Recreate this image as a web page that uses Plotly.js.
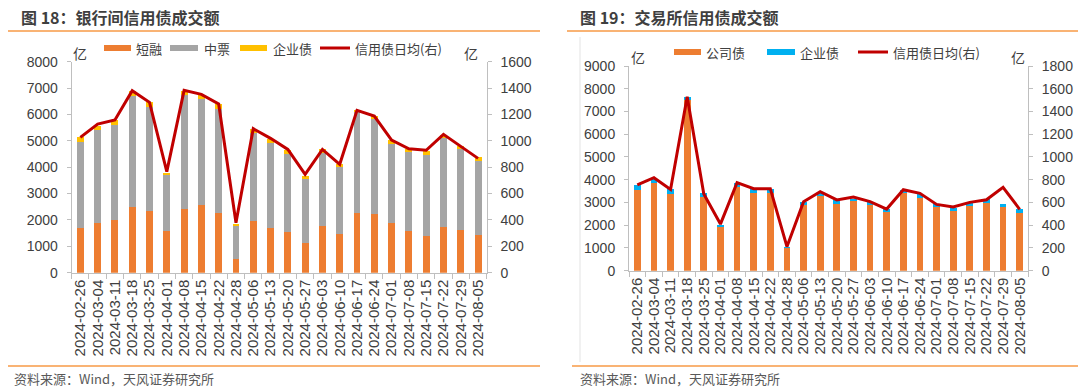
<!DOCTYPE html>
<html><head><meta charset="utf-8">
<script src="https://cdn.plot.ly/plotly-3.0.1.min.js"></script>
<style>html,body{margin:0;padding:0;background:#fff}#chart{width:1080px;height:392px}</style>
</head><body><div id="chart"></div>
<script>
const dates = ['2024-02-26','2024-03-04','2024-03-11','2024-03-18','2024-03-25','2024-04-01','2024-04-08','2024-04-15','2024-04-22','2024-04-28','2024-05-06','2024-05-13','2024-05-20','2024-05-27','2024-06-03','2024-06-10','2024-06-17','2024-06-24','2024-07-01','2024-07-08','2024-07-15','2024-07-22','2024-07-29','2024-08-05'];

// 图18 银行间
const ibCP   = [1680,1870,2000,2500,2340,1580,2400,2570,2260,510,1950,1710,1560,1110,1770,1480,2260,2210,1880,1570,1390,1730,1620,1420];
const ibMTN  = [3260,3540,3615,4195,3955,2110,4335,4030,3955,1275,3350,3210,2930,2450,2755,2540,3815,3630,2995,3010,3085,3360,3070,2820];
const ibEnt  = [190,164,164,202,164,101,164,152,164,76,164,164,164,114,152,113,88,101,152,126,139,126,126,139];
const ibAvg  = [1026,1127,1158,1380,1292,766,1383,1352,1279,379,1092,1019,935,746,935,822,1231,1188,1006,940,928,1049,958,867];

// 图19 交易所
const exCorp = [3550,3870,3370,7500,3225,1935,3665,3400,3430,1000,2875,3300,2950,3080,2890,2580,3430,3195,2785,2625,2860,2960,2785,2550];
const exEnt  = [220,150,205,150,175,60,175,175,145,45,145,100,160,90,130,145,120,175,145,130,100,175,160,160];
const exAvg  = [754,818,715,1530,674,410,774,721,721,211,607,695,622,648,607,542,712,680,583,560,601,624,733,540];

const leftNames = ['短融','中票','企业债','信用债日均(右)'];
const rightNames = ['公司债','企业债','信用债日均(右)'];
const titles = ['图 18：银行间信用债成交额','图 19：交易所信用债成交额'];
const source = '资料来源：Wind，天风证券研究所';
const unit = '亿';

const C_OR='#ED7D31', C_GR='#A5A5A5', C_YE='#FFC000', C_RD='#C00000', C_BL='#00B0F0';
const FONT = 'Liberation Sans, Arial, Noto Sans CJK SC, sans-serif';
const CJK = 'Noto Sans CJK SC, Liberation Sans, sans-serif';
const TXT = '#404040';

const W=1080, H=392;
const px = x => x/W, py = y => 1 - y/H;

const traces = [
  {type:'bar', x:dates, y:ibCP, name:leftNames[0], marker:{color:C_OR}, xaxis:'x', yaxis:'y', showlegend:false},
  {type:'bar', x:dates, y:ibMTN, name:leftNames[1], marker:{color:C_GR}, xaxis:'x', yaxis:'y', showlegend:false},
  {type:'bar', x:dates, y:ibEnt, name:leftNames[2], marker:{color:C_YE}, xaxis:'x', yaxis:'y', showlegend:false},
  {type:'scatter', mode:'lines', x:dates, y:ibAvg, name:leftNames[3], line:{color:C_RD, width:3}, xaxis:'x', yaxis:'y2', showlegend:false},
  {type:'bar', x:dates, y:exCorp, name:rightNames[0], marker:{color:C_OR}, xaxis:'x2', yaxis:'y3', showlegend:false},
  {type:'bar', x:dates, y:exEnt, name:rightNames[1], marker:{color:C_BL}, xaxis:'x2', yaxis:'y3', showlegend:false},
  {type:'scatter', mode:'lines', x:dates, y:exAvg, name:rightNames[2], line:{color:C_RD, width:3}, xaxis:'x2', yaxis:'y4', showlegend:false}
];

const axC = '#BFBFBF';
const xBase = {type:'category', tickmode:'linear', tick0:0, dtick:1, tickangle:-90, tickson:'boundaries', ticks:'outside', ticklen:5, tickcolor:axC,
  showline:true, linecolor:axC, linewidth:1, showgrid:false, zeroline:false, fixedrange:true,
  tickfont:{family:FONT, size:15, color:TXT}, automargin:false};
const yBase = {showline:true, linecolor:axC, linewidth:1, ticks:'outside', ticklen:4, tickcolor:axC,
  showgrid:false, zeroline:false, tickfont:{family:FONT, size:14, color:TXT}, automargin:false, ticklabelstandoff:6};

const layout = {
  width:W, height:H, margin:{l:0,r:0,t:0,b:0}, paper_bgcolor:'#fff', plot_bgcolor:'rgba(0,0,0,0)',
  barmode:'stack', bargap:0.6, showlegend:false,
  xaxis: Object.assign({}, xBase, {domain:[px(71.7), px(486.7)], anchor:'y'}),
  yaxis: Object.assign({}, yBase, {domain:[py(272.7), py(61.7)], range:[0,8000], dtick:1000, anchor:'x'}),
  yaxis2: Object.assign({}, yBase, {overlaying:'y', side:'right', range:[0,1600], dtick:200, anchor:'x'}),
  xaxis2: Object.assign({}, xBase, {domain:[px(629), px(1028)], anchor:'y3'}),
  yaxis3: Object.assign({}, yBase, {domain:[py(270.7), py(66)], range:[0,9000], dtick:1000, anchor:'x2'}),
  yaxis4: Object.assign({}, yBase, {overlaying:'y3', side:'right', range:[0,1800], dtick:200, anchor:'x2'}),
  shapes:[], annotations:[]
};

const S = layout.shapes, A = layout.annotations;
function hline(x0,x1,y,color,w){S.push({type:'line',xref:'paper',yref:'paper',x0:px(x0),x1:px(x1),y0:py(y),y1:py(y),line:{color:color,width:w}});}
function text(t,x,y,size,color,fam,anchor){A.push({xref:'paper',yref:'paper',x:px(x),y:py(y),text:t,showarrow:false,xanchor:anchor||'left',yanchor:'middle',font:{family:fam||CJK,size:size,color:color||TXT}});}
function swatch(x0,x1,y,color,h){S.push({type:'rect',xref:'paper',yref:'paper',x0:px(x0),x1:px(x1),y0:py(y+h/2),y1:py(y-h/2),fillcolor:color,line:{width:0}});}

// titles & rules
text('<b>'+titles[0]+'</b>', 19, 17, 16, '#3F3F3F');
text('<b>'+titles[1]+'</b>', 578, 17, 16, '#3F3F3F');
hline(8,540,31,'#F79A46',1.5);
hline(567,1078,31,'#F79A46',1.5);
hline(8,540,366,'#F79A46',1.5);
hline(572,1078,366,'#F79A46',1.5);
S.push({type:'line',xref:'paper',yref:'paper',x0:px(580),x1:px(580),y0:py(37),y1:py(362),line:{color:'#E3E3E3',width:1}});
text(source, 12, 378, 13, '#595959');
text(source, 578, 378, 13, '#595959');

// left legend
text(unit, 80, 53, 14, TXT, CJK, 'center');
swatch(104,131,48,C_OR,6); text(leftNames[0],134,48,13);
swatch(170,198,48,C_GR,6); text(leftNames[1],202,48,13);
swatch(240,267,48,C_YE,6); text(leftNames[2],271,48,13);
swatch(320,350,48,C_RD,3); text(leftNames[3],353,48,13);
text(unit, 471, 53, 14, TXT, CJK, 'center');

// right legend
text(unit, 638, 57, 14, TXT, CJK, 'center');
swatch(674,701,52,C_OR,6); text(rightNames[0],704,52,13);
swatch(767,795,52,C_BL,6); text(rightNames[1],798,52,13);
swatch(858,888,52,C_RD,3); text(rightNames[2],891,52,13);
text(unit, 1018, 57, 14, TXT, CJK, 'center');

Plotly.newPlot('chart', traces, layout, {displayModeBar:false, staticPlot:true});
</script></body></html>
